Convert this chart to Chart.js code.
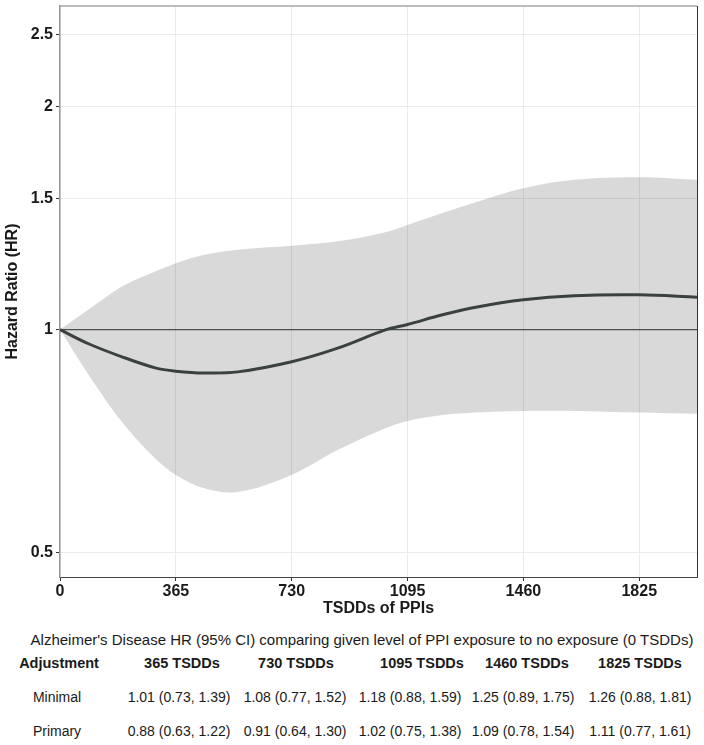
<!DOCTYPE html>
<html>
<head>
<meta charset="utf-8">
<script src="https://cdn.jsdelivr.net/npm/chart.js@4.4.1/dist/chart.umd.min.js"></script>
<style>
  html, body { margin: 0; padding: 0; background: #fff; }
  #wrap { position: relative; width: 704px; height: 745px; font-family: "Liberation Sans", Arial, sans-serif; color: #1a1a1a; }
  #grafica { position: absolute; left: 0; top: 0; }
  .t { position: absolute; white-space: nowrap; font-size: 14px; line-height: 16px; transform: translateX(-50%); }
  .b { font-weight: bold; font-size: 14.5px; }
  .g { font-size: 15px; }
</style>
</head>
<body>
<div id="wrap">
  <canvas id="grafica" width="704" height="618"></canvas>
  <div id="tabla"></div>
</div>
<script>
// Datos (TSDDs vs HR, escala logarítmica)
const dias   = [0, 90, 195, 300, 365, 455, 560, 730, 875, 1025, 1095, 1205, 1310, 1460, 1620, 1825, 2007];
const hr     = [1.0, 0.957, 0.919, 0.888, 0.879, 0.874, 0.877, 0.905, 0.944, 0.999, 1.016, 1.047, 1.072, 1.097, 1.111, 1.114, 1.106];
const hrSup  = [1.0, 1.064, 1.143, 1.198, 1.229, 1.261, 1.281, 1.297, 1.315, 1.353, 1.384, 1.436, 1.485, 1.551, 1.592, 1.605, 1.592];
const hrInf  = [1.0, 0.869, 0.751, 0.670, 0.637, 0.611, 0.604, 0.637, 0.688, 0.736, 0.753, 0.767, 0.773, 0.777, 0.777, 0.773, 0.770];
const ticksX = [0, 365, 730, 1095, 1460, 1825];
const ticksY = [0.5, 1, 1.5, 2, 2.5];

// Tabla inferior
const tituloTabla = "Alzheimer's Disease HR (95% CI) comparing given level of PPI exposure to no exposure (0 TSDDs)";
const columnas   = ['365 TSDDs', '730 TSDDs', '1095 TSDDs', '1460 TSDDs', '1825 TSDDs'];
const ajustes    = ['Minimal', 'Primary'];
const filaMinimal = ['1.01 (0.73, 1.39)', '1.08 (0.77, 1.52)', '1.18 (0.88, 1.59)', '1.25 (0.89, 1.75)', '1.26 (0.88, 1.81)'];
const filaPrimary = ['0.88 (0.63, 1.22)', '0.91 (0.64, 1.30)', '1.02 (0.75, 1.38)', '1.09 (0.78, 1.54)', '1.11 (0.77, 1.61)'];

const X_MAX = 2007;
const fuente = '"Liberation Sans", Arial, sans-serif';

const puntos = ys => dias.map((d, i) => ({ x: d, y: ys[i] }));

/**
 * Dibuja el borde superior y derecho del panel.
 */
const marco = {
  id: 'marco',
  afterDraw(chart) {
    const { ctx, chartArea: a } = chart;
    ctx.save();
    ctx.strokeStyle = '#a6a6a6';
    ctx.lineWidth = 1.5;
    ctx.beginPath();
    ctx.moveTo(a.left, a.top);
    ctx.lineTo(a.right, a.top);
    ctx.stroke();
    ctx.strokeStyle = '#333';
    ctx.lineWidth = 1;
    ctx.beginPath();
    ctx.moveTo(a.right + 0.5, a.top);
    ctx.lineTo(a.right + 0.5, a.bottom);
    ctx.stroke();
    ctx.restore();
  }
};

const ctx = document.getElementById('grafica').getContext('2d');
new Chart(ctx, {
  type: 'line',
  data: {
    datasets: [
      { label: 'HR', data: puntos(hr), borderColor: '#3b423d', borderWidth: 3, pointRadius: 0, tension: 0.35, fill: false },
      { label: 'Ref', data: [{ x: 0, y: 1 }, { x: X_MAX, y: 1 }], borderColor: '#4d4d4d', borderWidth: 1.3, pointRadius: 0, fill: false },
      { label: 'IC sup', data: puntos(hrSup), borderColor: 'rgba(0,0,0,0)', borderWidth: 0, pointRadius: 0, tension: 0.35, fill: 3, backgroundColor: 'rgba(0,0,0,0.15)' },
      { label: 'IC inf', data: puntos(hrInf), borderColor: 'rgba(0,0,0,0)', borderWidth: 0, pointRadius: 0, tension: 0.35, fill: false }
    ]
  },
  options: {
    responsive: false,
    animation: false,
    layout: { padding: { left: 3, top: 6, right: 7, bottom: 0 } },
    plugins: { legend: { display: false }, tooltip: { enabled: false } },
    scales: {
      x: {
        type: 'linear', min: 0, max: X_MAX,
        afterBuildTicks: s => { s.ticks = ticksX.map(v => ({ value: v })); },
        afterFit: s => { s.height = 41; },
        grid: { color: '#ebebeb', tickColor: '#333', tickLength: 4 },
        border: { color: '#444', width: 1 },
        ticks: { color: '#1a1a1a', font: { family: fuente, size: 16, weight: 'bold' }, padding: 1, maxRotation: 0, autoSkip: false, callback: v => String(v) },
        title: { display: true, text: 'TSDDs of PPIs', color: '#1a1a1a', font: { family: fuente, size: 16, weight: 'bold' }, padding: 0 }
      },
      y: {
        type: 'logarithmic', min: 0.464, max: 2.73,
        afterBuildTicks: s => { s.ticks = ticksY.map(v => ({ value: v })); },
        afterFit: s => { s.width = 57; s.paddingTop = 0; s.paddingBottom = 0; },
        grid: { color: '#ebebeb', tickColor: '#333', tickLength: 4 },
        border: { color: '#999', width: 1.5 },
        ticks: { color: '#1a1a1a', font: { family: fuente, size: 16, weight: 'bold' }, padding: 3, callback: v => String(v) },
        title: { display: true, text: 'Hazard Ratio (HR)', color: '#1a1a1a', font: { family: fuente, size: 16, weight: 'bold' }, padding: 0 }
      }
    }
  },
  plugins: [marco]
});

/**
 * Construye la tabla de HR bajo la gráfica.
 */
function texto(str, cx, cy, clase) {
  const el = document.createElement('div');
  el.className = 't' + (clase ? ' ' + clase : '');
  el.textContent = str;
  el.style.left = cx + 'px';
  el.style.top = (cy - 8) + 'px';
  document.getElementById('tabla').appendChild(el);
}

const centrosCab = [182, 296, 422, 527, 640];
const centrosVal = [179, 295, 410, 523, 640];
texto(tituloTabla, 362, 640, 'g');
texto('Adjustment', 59, 663, 'b');
columnas.forEach((c, i) => texto(c, centrosCab[i], 663, 'b'));
[filaMinimal, filaPrimary].forEach((fila, j) => {
  const cy = j === 0 ? 697 : 731;
  texto(ajustes[j], 57, cy, '');
  fila.forEach((v, i) => texto(v, centrosVal[i], cy, ''));
});
</script>
</body>
</html>
